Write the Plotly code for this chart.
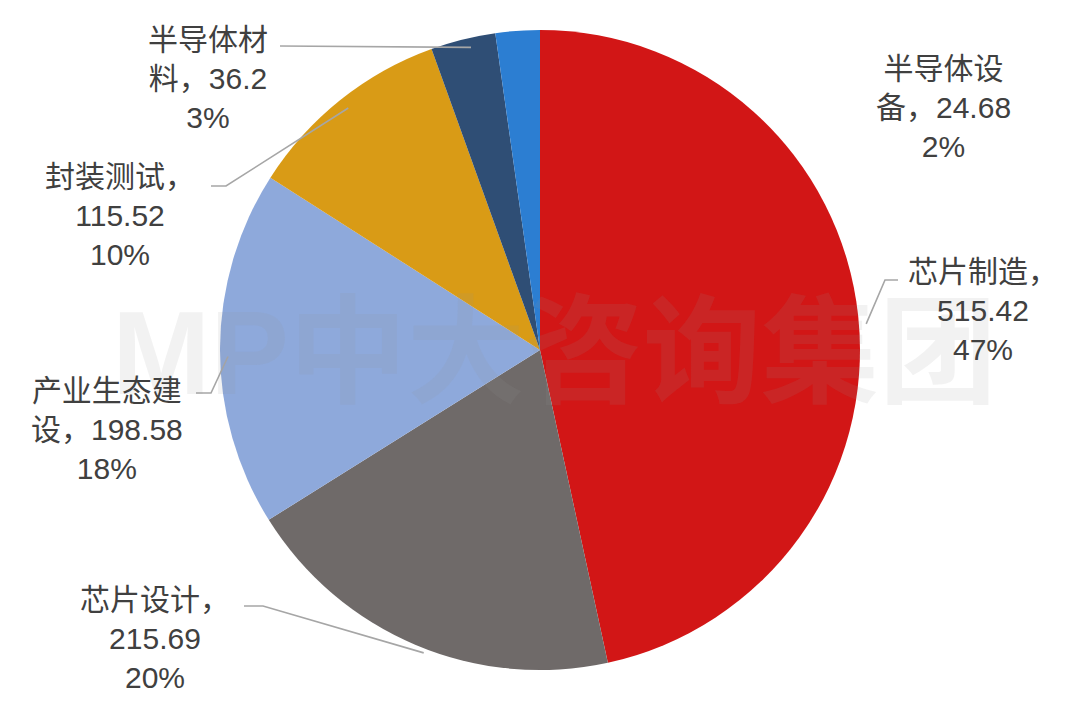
import math
import plotly.graph_objects as go

# ---- data ----
categories = ["芯片制造", "芯片设计", "产业生态建设", "封装测试", "半导体材料", "半导体设备"]
values = [515.42, 215.69, 198.58, 115.52, 36.2, 24.68]
percent_labels = ["47%", "20%", "18%", "10%", "3%", "2%"]
value_labels = ["515.42", "215.69", "198.58", "115.52", "36.2", "24.68"]
label_texts = [
    "芯片制造，<br>515.42<br>47%",
    "芯片设计，<br>215.69<br>20%",
    "产业生态建<br>设，198.58<br>18%",
    "封装测试，<br>115.52<br>10%",
    "半导体材<br>料，36.2<br>3%",
    "半导体设<br>备，24.68<br>2%",
]
colors = ["#D21616", "#6F6A69", "#8EA9DB", "#D99B16", "#2F4E75", "#2C7ED2"]

# ---- layout geometry (pixels) ----
W, H = 1080, 701
CX, CY, R = 540, 350, 320
DX_FIX, DY_FIX = -8, -8  # renderer offset correction for pie placement
# label block centres
label_pos = [(975, 302), (147, 630), (99, 421), (112, 208), (200, 70), (935, 100)]
# leader line: start (near label) and elbow points; None = no leader
leader_start = [(890, 272), (236, 598), (188, 385), (203, 178), (272, 38), None]
leader_elbow = [(877, 272), (255, 598), (203, 385), (218, 178), None, None]


def px(x, y):
    return x / W, 1 - y / H


dcx, dcy = CX + DX_FIX, CY + DY_FIX

fig = go.Figure()
fig.add_trace(go.Pie(
    labels=categories,
    values=values,
    sort=False,
    direction="clockwise",
    rotation=0,
    marker=dict(colors=colors, line=dict(width=0)),
    textinfo="none",
    hoverinfo="label+value+percent",
    showlegend=False,
    domain=dict(x=[(dcx - R) / W, (dcx + R) / W], y=[1 - (dcy + R) / H, 1 - (dcy - R) / H]),
))

# leader lines computed from slice mid-angles
total = sum(values)
cum = 0
shapes = []
for i, v in enumerate(values):
    mid = (cum + v / 2) / total
    cum += v
    if leader_start[i] is None:
        continue
    ang = mid * 2 * math.pi
    ex, ey = CX + R * math.sin(ang), CY - R * math.cos(ang)
    pts = [leader_start[i]]
    if leader_elbow[i] is not None:
        pts.append(leader_elbow[i])
    pts.append((ex, ey))
    path = "M " + " L ".join(f"{px(x, y)[0]:.5f},{px(x, y)[1]:.5f}" for x, y in pts)
    shapes.append(dict(type="path", path=path, xref="paper", yref="paper",
                       line=dict(color="#A6A6A6", width=1.6)))

annotations = []
# watermark (drawn first, beneath the labels)
wx, wy = px(546, 345)
annotations.append(dict(
    x=wx, y=wy, xref="paper", yref="paper", text="<b>MP中大咨询集团</b>", showarrow=False,
    xanchor="center", yanchor="middle",
    font=dict(family="Liberation Sans, Arial, Noto Sans CJK SC", size=118, color="rgba(150,150,150,0.12)"),
))
for (x, y), t in zip(label_pos, label_texts):
    xp, yp = px(x, y)
    annotations.append(dict(
        x=xp, y=yp, xref="paper", yref="paper", text=t, showarrow=False,
        xanchor="center", yanchor="middle", align="center",
        font=dict(family="Liberation Sans, Arial, Noto Sans CJK SC", size=30, color="#404040"),
    ))

fig.update_layout(
    width=W, height=H,
    margin=dict(l=0, r=0, t=0, b=0),
    paper_bgcolor="white",
    plot_bgcolor="white",
    shapes=shapes,
    annotations=annotations,
)

fig.write_html("out.html")
